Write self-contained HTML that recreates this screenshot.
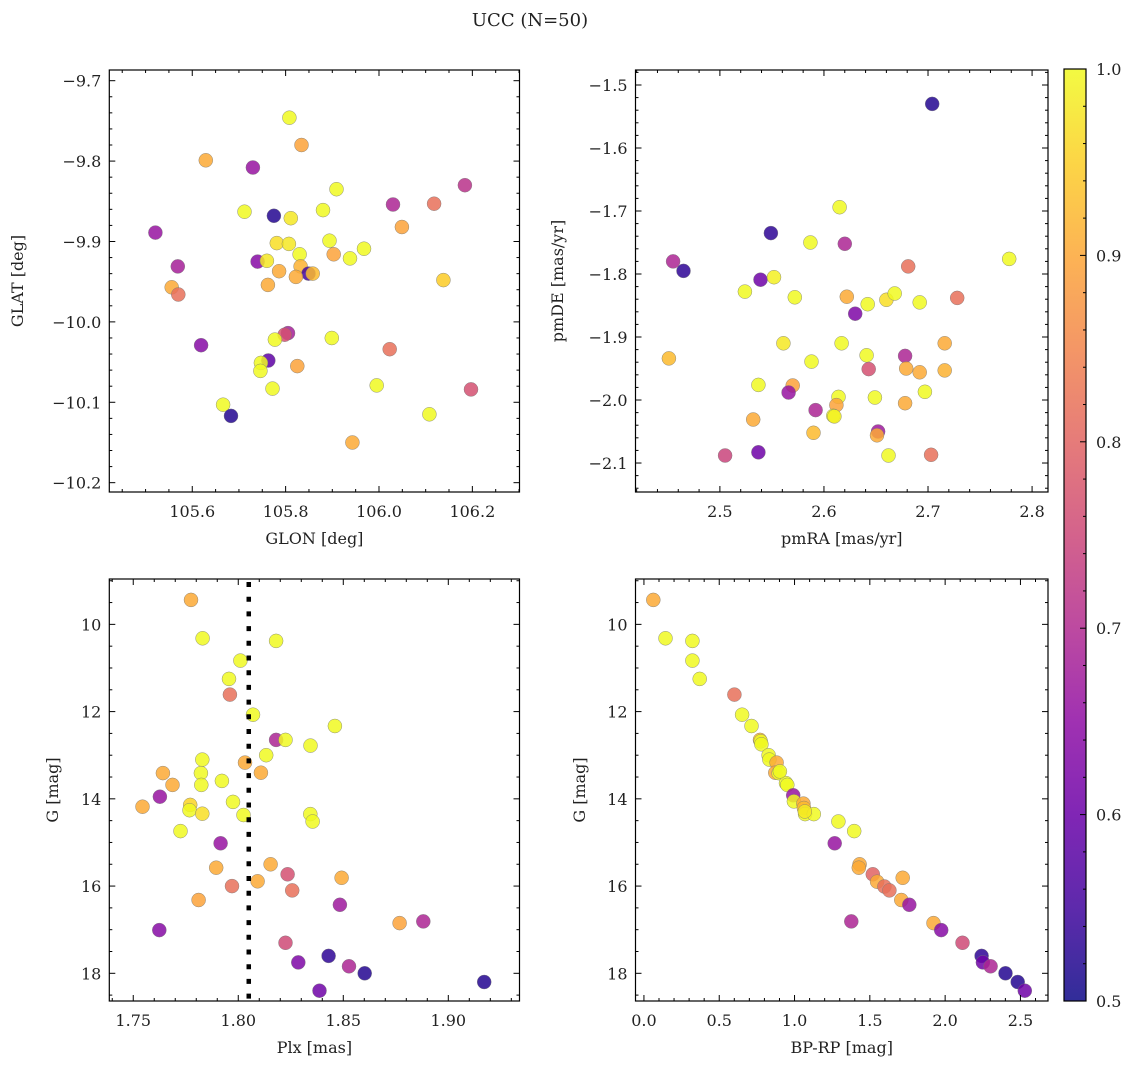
<!DOCTYPE html>
<html><head><meta charset="utf-8"><style>
body{margin:0;background:#fff;}
svg text{font-family:"DejaVu Serif","Liberation Serif",serif;fill:#222;}
</style></head><body>
<svg id="fig" width="1136" height="1068" viewBox="0 0 1136 1068" xmlns="http://www.w3.org/2000/svg">
<rect width="1136" height="1068" fill="#fff"/>
<text x="530" y="26" font-size="18" text-anchor="middle">UCC (N=50)</text>
</svg>
<script>
// ---- Panel 1: GLON / GLAT ----
const glon=[105.808,105.834,105.629,105.730,105.909,106.184,106.030,106.118,105.712,105.775,105.811,105.880,105.521,106.049,105.781,105.807,105.894,105.830,105.903,105.938,105.968,105.569,105.740,105.760,105.832,105.786,105.849,105.858,105.822,105.762,106.138,105.556,105.570,105.805,105.798,105.777,105.899,105.619,106.023,105.763,105.747,105.746,105.825,105.772,105.995,106.197,105.666,105.683,106.108,105.943];
const glat=[-9.746,-9.780,-9.799,-9.808,-9.835,-9.830,-9.854,-9.853,-9.863,-9.868,-9.871,-9.861,-9.889,-9.882,-9.902,-9.903,-9.899,-9.916,-9.916,-9.921,-9.909,-9.931,-9.925,-9.924,-9.931,-9.937,-9.940,-9.940,-9.944,-9.954,-9.948,-9.957,-9.966,-10.014,-10.016,-10.022,-10.020,-10.029,-10.034,-10.048,-10.051,-10.061,-10.055,-10.083,-10.079,-10.084,-10.103,-10.117,-10.115,-10.150];
const prob1=[0.98,0.87,0.88,0.65,0.97,0.70,0.68,0.80,0.98,0.52,0.95,0.98,0.65,0.87,0.94,0.95,0.97,0.97,0.87,0.98,0.97,0.67,0.63,0.95,0.89,0.88,0.55,0.90,0.88,0.88,0.92,0.88,0.80,0.67,0.75,0.97,0.98,0.63,0.80,0.58,0.97,0.98,0.87,0.97,0.98,0.75,0.98,0.52,0.98,0.88];
// ---- Panel 2: pmRA / pmDE ----
const pmra=[2.704,2.615,2.549,2.587,2.620,2.778,2.455,2.465,2.681,2.539,2.552,2.524,2.572,2.622,2.642,2.660,2.668,2.692,2.728,2.630,2.451,2.561,2.617,2.716,2.588,2.641,2.678,2.643,2.679,2.692,2.716,2.537,2.570,2.566,2.614,2.649,2.697,2.612,2.678,2.592,2.609,2.610,2.532,2.590,2.652,2.651,2.505,2.537,2.662,2.703];
const pmde=[-1.530,-1.694,-1.735,-1.750,-1.752,-1.776,-1.780,-1.795,-1.788,-1.809,-1.805,-1.828,-1.837,-1.836,-1.848,-1.841,-1.831,-1.845,-1.838,-1.863,-1.934,-1.910,-1.910,-1.910,-1.939,-1.929,-1.930,-1.951,-1.950,-1.956,-1.953,-1.976,-1.977,-1.988,-1.995,-1.996,-1.987,-2.008,-2.005,-2.016,-2.025,-2.026,-2.031,-2.052,-2.050,-2.056,-2.088,-2.083,-2.088,-2.087];
const prob2=[0.52,0.97,0.53,0.97,0.68,0.98,0.68,0.53,0.80,0.60,0.96,0.97,0.97,0.88,0.97,0.94,0.97,0.97,0.80,0.62,0.90,0.95,0.97,0.88,0.97,0.97,0.68,0.75,0.88,0.88,0.89,0.97,0.87,0.65,0.97,0.97,0.97,0.87,0.88,0.68,0.97,0.96,0.88,0.90,0.66,0.88,0.73,0.60,0.97,0.80];
// ---- Panel 3: Plx / G ----
const plx=[1.7775,1.783,1.818,1.801,1.7956,1.796,1.807,1.846,1.818,1.8225,1.8344,1.8133,1.7829,1.8032,1.8108,1.7641,1.7822,1.7687,1.7824,1.7922,1.7627,1.7544,1.7771,1.7768,1.7975,1.7829,1.8025,1.8343,1.8354,1.7725,1.7916,1.8154,1.7895,1.8235,1.8492,1.8092,1.797,1.8257,1.7811,1.8484,1.8768,1.8881,1.7624,1.8225,1.843,1.8286,1.8527,1.8602,1.9171,1.8387];
const gmag3=[9.44,10.32,10.38,10.83,11.25,11.61,12.07,12.33,12.65,12.65,12.78,13.0,13.10,13.17,13.40,13.41,13.41,13.68,13.68,13.59,13.95,14.18,14.14,14.26,14.07,14.34,14.37,14.35,14.52,14.74,15.02,15.50,15.58,15.73,15.81,15.89,16.0,16.10,16.32,16.43,16.85,16.81,17.01,17.30,17.60,17.75,17.84,18.0,18.20,18.40];
const prob3=[0.88,0.97,0.97,0.97,0.97,0.80,0.97,0.97,0.68,0.97,0.97,0.97,0.97,0.88,0.88,0.88,0.97,0.88,0.97,0.97,0.65,0.88,0.93,0.97,0.97,0.94,0.97,0.97,0.97,0.97,0.65,0.88,0.88,0.75,0.88,0.88,0.80,0.80,0.87,0.66,0.87,0.68,0.63,0.74,0.53,0.62,0.68,0.52,0.52,0.60];
const plxLine=1.805;
// ---- Panel 4: BP-RP / G ----
const bprp=[0.062,0.143,0.322,0.322,0.370,0.601,0.652,0.714,0.771,0.775,0.780,0.828,0.833,0.881,0.872,0.894,0.943,0.952,0.991,0.996,1.059,1.062,1.070,1.128,1.291,1.396,1.267,1.432,1.427,1.520,1.548,1.597,1.630,1.718,1.709,1.762,1.377,1.923,1.974,2.115,2.242,2.251,2.302,2.401,2.482,2.529,1.068,0.903];
const gmag4=[9.44,10.32,10.38,10.83,11.25,11.61,12.07,12.33,12.65,12.68,12.75,13.0,13.10,13.17,13.40,13.41,13.64,13.68,13.92,14.06,14.11,14.21,14.35,14.35,14.52,14.74,15.02,15.50,15.58,15.73,15.90,16.01,16.10,15.81,16.32,16.43,16.81,16.85,17.01,17.30,17.60,17.75,17.84,18.0,18.20,18.40,14.29,13.37];
const prob4=[0.88,0.97,0.97,0.97,0.97,0.80,0.97,0.97,0.90,0.97,0.97,0.97,0.97,0.88,0.88,0.97,0.97,0.97,0.65,0.97,0.88,0.90,0.97,0.97,0.97,0.97,0.65,0.88,0.88,0.78,0.88,0.80,0.80,0.88,0.88,0.65,0.68,0.88,0.63,0.74,0.53,0.60,0.68,0.52,0.52,0.60,0.95,0.97];
// tick labels
const ticks1x=["105.6","105.8","106.0","106.2"], ticks1y=["−9.7","−9.8","−9.9","−10.0","−10.1","−10.2"];
const ticks2x=["2.5","2.6","2.7","2.8"], ticks2y=["−1.5","−1.6","−1.7","−1.8","−1.9","−2.0","−2.1"];
const ticks3x=["1.75","1.80","1.85","1.90"], ticksG=["10","12","14","16","18"];
const ticks4x=["0.0","0.5","1.0","1.5","2.0","2.5"], ticksCb=["0.5","0.6","0.7","0.8","0.9","1.0"];

const NS="http://www.w3.org/2000/svg";
const svg=document.getElementById('fig');
function mk(tag,attrs,parent){const e=document.createElementNS(NS,tag);for(const k in attrs)e.setAttribute(k,attrs[k]);(parent||svg).appendChild(e);return e;}
const plasma=[[13,8,135],[65,4,157],[106,0,168],[143,13,164],[177,42,144],[204,71,120],[225,100,98],[242,132,75],[252,166,54],[252,206,37],[240,249,33]];
function cmapT(t){t=Math.max(0,Math.min(1,t))*10;const i=Math.min(9,Math.floor(t)),f=t-i;const a=plasma[i],b=plasma[i+1];return 'rgb('+a.map((v,k)=>Math.round(v+(b[k]-v)*f)).join(',')+')';}
function cmap(p){return cmapT((p-0.5)/0.47);}

function panel(pname,fr,xd,yd,xMaj,xMin,yMaj,yMin,xlab,ylab,ylabX,xs,ys,cs,xTickLabels,yTickLabels){
  const g=mk('g',{});
  
  
  const X=v=>fr.l+(v-xd[0])/(xd[1]-xd[0])*(fr.r-fr.l);
  const Y=v=>fr.t+(v-yd[0])/(yd[1]-yd[0])*(fr.b-fr.t);
  const clip='c'+pname;
  const cp=mk('clipPath',{id:clip},g);mk('rect',{x:fr.l,y:fr.t,width:fr.r-fr.l,height:fr.b-fr.t},cp);
  const pts=mk('g',{'clip-path':'url(#'+clip+')'},g);
  for(let i=0;i<xs.length;i++){
    const c=mk('circle',{cx:X(xs[i]).toFixed(1),cy:Y(ys[i]).toFixed(1),r:7,fill:cmap(cs[i]),'fill-opacity':0.85,stroke:'#777','stroke-width':0.5,'stroke-opacity':0.8},pts);
    
    
  }
  const tk=mk('g',{stroke:'#000','stroke-width':1},g);
  const xlo=Math.min(...xd),xhi=Math.max(...xd),ylo=Math.min(...yd),yhi=Math.max(...yd);
  const nx0=Math.ceil(xlo/xMin-1e-6), nx1=Math.floor(xhi/xMin+1e-6);
  for(let n=nx0;n<=nx1;n++){
    const v=n*xMin;const maj=Math.abs(v/xMaj-Math.round(v/xMaj))<1e-4;const L=maj?6:3;const x=X(v);
    mk('line',{x1:x,x2:x,y1:fr.b,y2:fr.b-L},tk);mk('line',{x1:x,x2:x,y1:fr.t,y2:fr.t+L},tk);
  }
  const ny0=Math.ceil(ylo/yMin-1e-6), ny1=Math.floor(yhi/yMin+1e-6);
  for(let n=ny0;n<=ny1;n++){
    const v=n*yMin;const maj=Math.abs(v/yMaj-Math.round(v/yMaj))<1e-4;const L=maj?6:3;const y=Y(v);
    mk('line',{y1:y,y2:y,x1:fr.l,x2:fr.l+L},tk);mk('line',{y1:y,y2:y,x1:fr.r,x2:fr.r-L},tk);
  }
  xTickLabels.forEach(s=>{const v=parseFloat(s.replace('−','-'));const t=mk('text',{x:X(v),y:fr.b+25,'font-size':16,'text-anchor':'middle'},g);t.textContent=s;
    });
  yTickLabels.forEach(s=>{const v=parseFloat(s.replace('−','-'));const t=mk('text',{x:fr.l-8,y:Y(v)+6,'font-size':16,'text-anchor':'end'},g);t.textContent=s;
    });
  mk('rect',{x:fr.l,y:fr.t,width:fr.r-fr.l,height:fr.b-fr.t,fill:'none',stroke:'#000','stroke-width':1.2},g);
  const xl=mk('text',{x:(fr.l+fr.r)/2,y:fr.b+52,'font-size':16,'text-anchor':'middle'},g);xl.textContent=xlab;
  
  const yl=mk('text',{x:0,y:0,'font-size':16,'text-anchor':'middle',transform:'translate('+ylabX+','+(fr.t+fr.b)/2+') rotate(-90)'},g);yl.textContent=ylab;
  
  return {X:X,Y:Y,g:g};
}
const topFr={t:70,b:492}, botFr={t:579,b:1001};
panel('panel-glon-glat',{l:109.3,r:519.5,t:topFr.t,b:topFr.b},[105.4223,106.301],[-9.6867,-10.2116],0.2,0.05,0.1,0.02,'GLON [deg]','GLAT [deg]',23,glon,glat,prob1,ticks1x,ticks1y);
panel('panel-pm',{l:635.5,r:1048,t:topFr.t,b:topFr.b},[2.4189,2.8153],[-1.4762,-2.146],0.1,0.02,0.1,0.02,'pmRA [mas/yr]','pmDE [mas/yr]',563,pmra,pmde,prob2,ticks2x,ticks2y);
const p3=panel('panel-plx-g',{l:109.3,r:519.5,t:botFr.t,b:botFr.b},[1.7386,1.9339],[8.96,18.635],0.05,0.01,2,0.5,'Plx [mas]','G [mag]',58,plx,gmag3,prob3,ticks3x,ticksG);
panel('panel-cmd',{l:635.5,r:1048,t:botFr.t,b:botFr.b},[-0.056,2.683],[8.96,18.635],0.5,0.1,2,0.5,'BP-RP [mag]','G [mag]',585,bprp,gmag4,prob4,ticks4x,ticksG);
const dl=mk('line',{x1:p3.X(plxLine),x2:p3.X(plxLine),y1:botFr.t+3,y2:botFr.b,stroke:'#000','stroke-width':4.5,'stroke-dasharray':'5 9.7'},p3.g);



// colorbar
const cb={l:1064,r:1086,t:69,b:1001};
const cg=mk('g',{});


const gr=mk('linearGradient',{id:'cbg',x1:0,y1:1,x2:0,y2:0},mk('defs',{},cg));
for(let i=0;i<=10;i++)mk('stop',{offset:i/10,'stop-color':cmapT(i/10),'stop-opacity':0.85},gr);
mk('rect',{x:cb.l,y:cb.t,width:cb.r-cb.l,height:cb.b-cb.t,fill:'url(#cbg)',stroke:'#000','stroke-width':1.2},cg);
const CY=v=>cb.b-(v-0.5)/0.5*(cb.b-cb.t);
for(let k=0;k<=25;k++){const v=0.5+k*0.02;const maj=k%5===0;mk('line',{x1:cb.r,x2:cb.r-(maj?6:3),y1:CY(v),y2:CY(v),stroke:'#000'},cg);}
ticksCb.forEach(s=>{const t=mk('text',{x:cb.r+10,y:CY(parseFloat(s))+6,'font-size':16},cg);t.textContent=s;
  });
</script>
</body></html>
